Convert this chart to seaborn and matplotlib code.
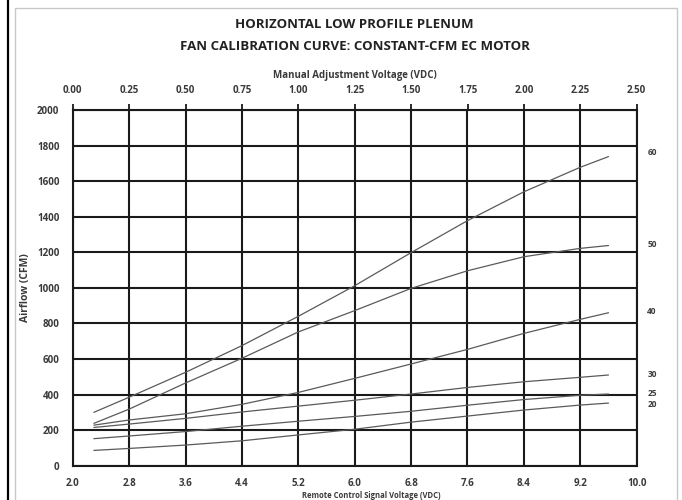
import numpy as np
import pandas as pd
import matplotlib
matplotlib.use('Agg')
import matplotlib.pyplot as plt
import seaborn as sns
from matplotlib.patches import Rectangle
from matplotlib.lines import Line2D

# control voltage points (VDC)
volts = [2.3, 2.8, 3.6, 4.4, 5.2, 6.0, 6.8, 7.6, 8.4, 9.2, 9.6]

# airflow (CFM) per fan setting
cfm_60 = [300, 385, 525, 675, 840, 1012, 1198, 1378, 1540, 1678, 1738]
cfm_50 = [238, 318, 465, 604, 752, 872, 997, 1096, 1175, 1222, 1238]
cfm_40 = [228, 257, 292, 345, 412, 491, 572, 654, 744, 823, 860]
cfm_30 = [215, 234, 266, 302, 335, 368, 403, 440, 472, 497, 510]
cfm_25 = [152, 167, 192, 222, 250, 277, 306, 340, 372, 396, 403]
cfm_20 = [86, 97, 116, 140, 173, 205, 245, 279, 313, 341, 352]

settings = ['60', '50', '40', '30', '25', '20']
label_cfm = [1760, 1245, 865, 515, 408, 345]

x_ticks = [2.0, 2.8, 3.6, 4.4, 5.2, 6.0, 6.8, 7.6, 8.4, 9.2, 10.0]
top_ticks = [0.00, 0.25, 0.50, 0.75, 1.00, 1.25, 1.50, 1.75, 2.00, 2.25, 2.50]
y_ticks = [0, 200, 400, 600, 800, 1000, 1200, 1400, 1600, 1800, 2000]

TEXT = '#3a3a3a'
GRID = '#1a1a1a'


def build_frame():
    rows = []
    for name, vals in zip(settings, [cfm_60, cfm_50, cfm_40, cfm_30, cfm_25, cfm_20]):
        for v, c in zip(volts, vals):
            rows.append({'volts': v, 'cfm': c, 'setting': name})
    return pd.DataFrame(rows)


def main():
    sns.set_theme(style='white')
    plt.rcParams['font.family'] = ['Open Sans', 'DejaVu Sans']
    plt.rcParams['font.weight'] = 'bold'
    plt.rcParams['axes.labelweight'] = 'bold'

    df = build_frame()

    fig = plt.figure(figsize=(6.82, 5.0), dpi=100)
    ax = fig.add_axes([72.7 / 682, 1 - 465.7 / 500, 564 / 682, 355.7 / 500])

    # outer frame like the original sheet
    fig.add_artist(Rectangle((15 / 682, -0.05), 662 / 682, 1 - 8 / 500 + 0.05,
                             transform=fig.transFigure, fill=False,
                             edgecolor='#c8c8c8', linewidth=1.0))
    fig.add_artist(Line2D([7.5 / 682, 7.5 / 682], [0, 1], transform=fig.transFigure,
                          color='black', linewidth=1.6))

    sns.lineplot(data=df, x='volts', y='cfm', hue='setting',
                 palette=['#5a5a5a'] * len(settings), linewidth=0.9,
                 legend=False, ax=ax)

    ax.set_xlim(2.0, 10.0)
    ax.set_ylim(0, 2000)
    ax.set_xticks(x_ticks)
    ax.set_xticklabels([f'{t:.1f}' for t in x_ticks])
    ax.set_yticks(y_ticks)
    ax.set_yticklabels([str(t) for t in y_ticks])

    ax.grid(True, color=GRID, linewidth=1.5)
    ax.set_axisbelow(True)
    for sp in ax.spines.values():
        sp.set_color(GRID)
        sp.set_linewidth(1.5)

    ax.tick_params(axis='both', direction='inout', length=7, width=1.3,
                   color=GRID, labelsize=7, labelcolor=TEXT, pad=5)
    ax.tick_params(axis='y', pad=6)

    ax.set_xlabel('')
    ax.set_ylabel('Airflow (CFM)', fontsize=7.5, color=TEXT, labelpad=4)

    # manual adjustment voltage on top: 0-2.5 V mapped onto 2-10 V
    top = ax.secondary_xaxis('top', functions=(lambda v: (v - 2.0) / 3.2,
                                               lambda m: m * 3.2 + 2.0))
    top.set_xticks(top_ticks)
    top.set_xticklabels([f'{t:.2f}' for t in top_ticks])
    top.tick_params(direction='out', length=4, width=1.3, color=GRID,
                    labelsize=7, labelcolor=TEXT, pad=6)
    top.spines['top'].set_visible(False)
    top.set_xlabel('Manual Adjustment Voltage (VDC)', fontsize=7,
                   color=TEXT, labelpad=5)

    # fan setting labels to the right of the curves
    for name, yv in zip(settings, label_cfm):
        ax.text(10.15, yv, name, fontsize=6, color=TEXT,
                va='center', ha='left', clip_on=False)

    fig.text(354.7 / 682, 1 - 25 / 500, 'HORIZONTAL LOW PROFILE PLENUM',
             ha='center', va='center', fontsize=9.5, color='#222222')
    fig.text(354.7 / 682, 1 - 46 / 500, 'FAN CALIBRATION CURVE: CONSTANT-CFM EC MOTOR',
             ha='center', va='center', fontsize=9.5, color='#222222')

    # bottom axis title, squeezed against the lower edge
    fig.text(371 / 682, 0.5 / 500, 'Remote Control Signal Voltage (VDC)',
             ha='center', va='bottom', fontsize=5.5, color=TEXT)

    fig.savefig('out.png', dpi=100)


if __name__ == '__main__':
    main()
